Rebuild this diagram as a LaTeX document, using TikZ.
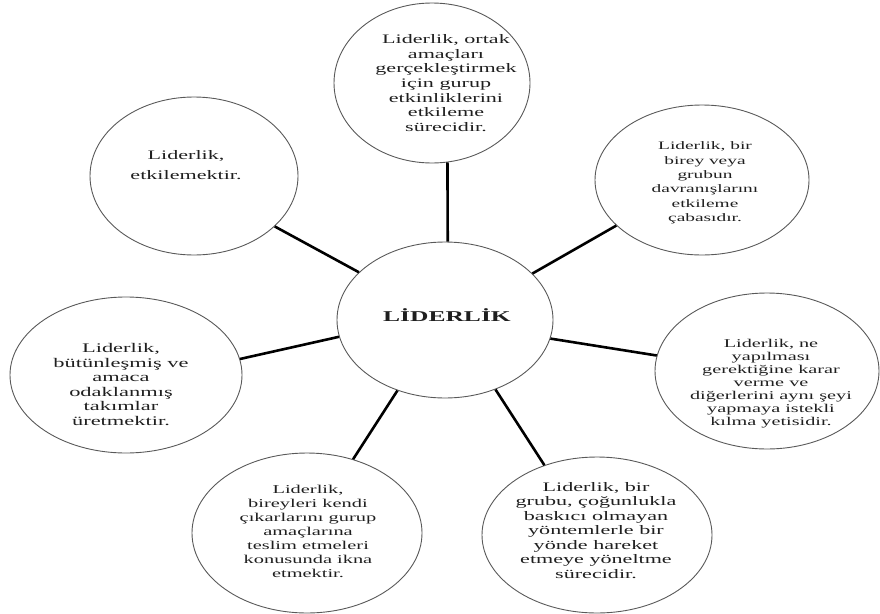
\documentclass[tikz,border=0pt]{standalone}
\usepackage{fontspec}
\setmainfont{Liberation Serif}[FakeStretch=1.7]
\usetikzlibrary{shapes.geometric}
\begin{document}
\begin{tikzpicture}[x=1pt,y=-1pt,
  bubble/.style={draw=black!65, line width=0.9pt, ellipse, inner sep=0pt},
  spoke/.style={line width=2.6pt, black},
  lbl/.style={align=center, inner sep=0pt, text=black!88}]
\useasboundingbox (0,0) rectangle (880,613);

% central concept
\node[bubble, minimum width=216pt, minimum height=156pt] (C) at (445,320) {};
\node[lbl, font=\bfseries\fontsize{15}{17}\selectfont] (Ct) at (447,315) {LİDERLİK};

% surrounding definitions
\node[bubble, minimum width=196pt, minimum height=160pt] (T) at (432,83) {};
\node[lbl, font=\fontsize{13}{14.6}\selectfont] (Tt) at (446,83)
  {Liderlik, ortak\\amaçları\\gerçekleştirmek\\için gurup\\etkinliklerini\\etkileme\\sürecidir.};

\node[bubble, minimum width=208pt, minimum height=158pt] (TL) at (194,176) {};
\node[lbl, font=\fontsize{13}{20}\selectfont] (TLt) at (186,165.5)
  {Liderlik,\\etkilemektir.};

\node[bubble, minimum width=214pt, minimum height=150pt] (TR) at (702,180) {};
\node[lbl, font=\fontsize{11.4}{14.4}\selectfont] (TRt) at (705,183)
  {Liderlik, bir\\birey veya\\grubun\\davranışlarını\\etkileme\\çabasıdır.};

\node[bubble, minimum width=232pt, minimum height=156pt] (L) at (126,375) {};
\node[lbl, font=\fontsize{13.2}{14.6}\selectfont] (Lt) at (121,384.5)
  {Liderlik,\\bütünleşmiş ve\\amaca\\odaklanmış\\takımlar\\üretmektir.};

\node[bubble, minimum width=224pt, minimum height=156pt] (R) at (767,371) {};
\node[lbl, font=\fontsize{11.9}{13}\selectfont] (Rt) at (771,383.5)
  {Liderlik, ne\\yapılması\\gerektiğine karar\\verme ve\\diğerlerini aynı şeyi\\yapmaya istekli\\kılma yetisidir.};

\node[bubble, minimum width=230pt, minimum height=160pt] (BL) at (307,533) {};
\node[lbl, font=\fontsize{12}{14.1}\selectfont] (BLt) at (308,531.5)
  {Liderlik,\\bireyleri kendi\\çıkarlarını gurup\\amaçlarına\\teslim etmeleri\\konusunda ikna\\etmektir.};

\node[bubble, minimum width=230pt, minimum height=156pt] (BR) at (597,535) {};
\node[lbl, font=\fontsize{13}{14.5}\selectfont] (BRt) at (596,530.5)
  {Liderlik, bir\\grubu, çoğunlukla\\baskıcı olmayan\\yöntemlerle bir\\yönde hareket\\etmeye yöneltme\\sürecidir.};

% spokes from the centre to each definition
\draw[spoke] (C.88.5)   -- (T.-79.4);
\draw[spoke] (C.151.6)  -- (TL.-32.3);
\draw[spoke] (C.28.1)   -- (TR.208.7);
\draw[spoke] (C.189.5)  -- (L.8.8);
\draw[spoke] (C.-10.5)  -- (R.172.4);
\draw[spoke] (C.-124.4) -- (BL.58.4);
\draw[spoke] (C.-54.5)  -- (BR.127.4);
\end{tikzpicture}
\end{document}
